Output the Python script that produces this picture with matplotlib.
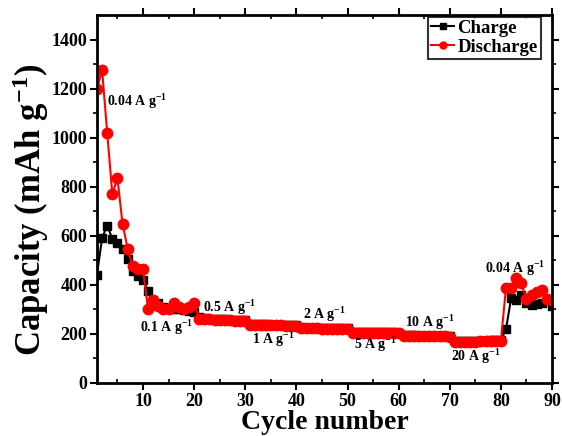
import matplotlib.pyplot as plt
import numpy as np

plt.rcParams['font.family'] = ['Liberation Serif', 'DejaVu Serif']
plt.rcParams['font.weight'] = 'bold'
plt.rcParams['mathtext.fontset'] = 'custom'
plt.rcParams['mathtext.rm'] = 'Liberation Serif:bold'
plt.rcParams['mathtext.default'] = 'rm'

cycles = np.arange(1, 91)

discharge = [1200, 1275, 1020, 770, 835, 648, 548, 475, 463, 463,
             300, 337, 312, 300, 300, 325, 308, 300, 310, 325,
             262, 260, 259, 258, 257, 256, 255, 254, 253, 252,
             238, 237, 237, 236, 236, 235, 235, 234, 234, 233,
             224, 224, 223, 223, 222, 222, 222, 221, 221, 220,
             205, 205, 205, 204, 204, 204, 204, 204, 203, 203,
             192, 192, 191, 191, 191, 191, 190, 190, 190, 189,
             167, 167, 168, 168, 169, 170, 170, 171, 171, 172,
             387, 387, 426, 406, 341, 360, 370, 381, 341, 337]

charge = [442, 592, 641, 588, 570, 545, 507, 455, 435, 418,
          375, 340, 325, 310, 305, 300, 300, 298, 295, 290,
          270, 263, 262, 261, 260, 259, 258, 257, 256, 256,
          241, 240, 239, 239, 238, 238, 237, 237, 236, 236,
          227, 226, 226, 225, 225, 224, 224, 224, 223, 223,
          208, 208, 207, 207, 207, 206, 206, 206, 206, 205,
          195, 194, 194, 193, 193, 193, 192, 192, 192, 192,
          172, 172, 172, 172, 173, 173, 173, 174, 174, 174,
          219, 345, 337, 360, 324, 318, 320, 328, 337, 312]

rate_labels = ['0.04 A g$^{-1}$', '0.1 A g$^{-1}$', '0.5 A g$^{-1}$', '1 A g$^{-1}$',
               '2 A g$^{-1}$', '5 A g$^{-1}$', '10 A g$^{-1}$', '20 A g$^{-1}$',
               '0.04 A g$^{-1}$']
label_x = [3.0, 9.4, 21.7, 31.3, 41.3, 51.3, 61.2, 70.2, 76.9]
label_y = [1129, 208, 289, 159, 261, 139, 228, 90, 448]

fig = plt.figure(figsize=(5.62, 4.36), dpi=100)
ax = fig.add_axes([0.1726, 0.1216, 0.8096, 0.8440])

ax.plot(cycles, charge, '-s', color='black', ms=6, lw=1.5, label='Charge')
ax.plot(cycles, discharge, '-o', color='red', ms=7.5, lw=1.5, label='Discharge')

for t, x, y in zip(rate_labels, label_x, label_y):
    ax.text(x, y, t, fontsize=10, fontweight='bold', ha='left', va='baseline')

ax.set_xlim(1, 90)
ax.set_ylim(0, 1500)
ax.set_xticks([10, 20, 30, 40, 50, 60, 70, 80, 90])
ax.set_xticks(np.arange(5, 90, 10), minor=True)
ax.set_yticks(np.arange(0, 1401, 200))
ax.set_yticks(np.arange(100, 1500, 200), minor=True)

ax.tick_params(axis='both', which='major', direction='out', length=5, width=1.5,
               labelsize=13, pad=2)
ax.tick_params(axis='both', which='minor', direction='out', length=3, width=1.2)
ax.tick_params(axis='y', which='both', right=True)
ax.tick_params(axis='x', which='both', top=True, direction='in')
ax.tick_params(axis='x', which='major', bottom=True, direction='out')
for lab in ax.get_xticklabels() + ax.get_yticklabels():
    lab.set_fontweight('bold')

for s in ax.spines.values():
    s.set_linewidth(2)

ax.set_xlabel('Cycle number', fontsize=20, fontweight='bold', labelpad=0)
ax.set_ylabel('Capacity (mAh g$^{-1}$)', fontsize=25, fontweight='bold')
ax.yaxis.set_label_coords(-0.102, 0.47)

leg = ax.legend(loc='upper right', bbox_to_anchor=(0.979, 1.0), fontsize=13.5,
                frameon=True, fancybox=False, edgecolor='black',
                handlelength=1.2, handletextpad=0.2, borderpad=0.15,
                labelspacing=0.1, borderaxespad=0.1,
                prop={'weight': 'bold', 'size': 13.5})
leg.get_frame().set_linewidth(1.5)
for h in leg.legend_handles:
    h.set_markersize(5)

fig.savefig('out.png', dpi=100)
